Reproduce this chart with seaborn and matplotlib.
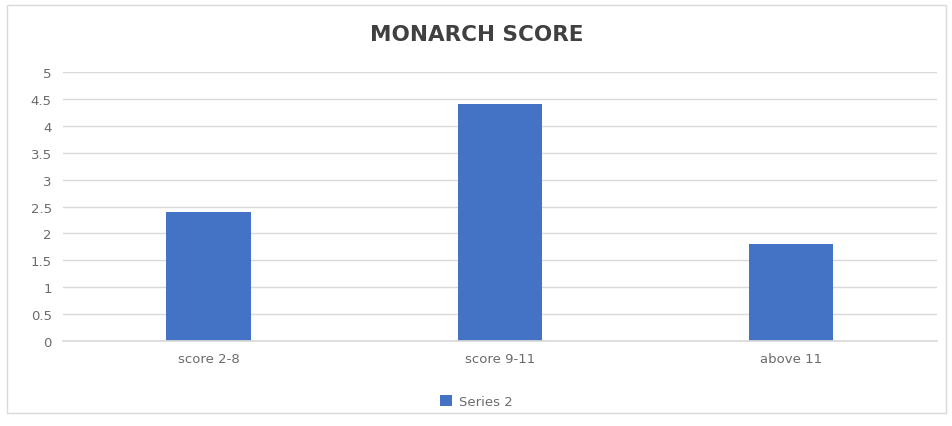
import matplotlib
matplotlib.use("Agg")
import matplotlib.pyplot as plt
import seaborn as sns
import pandas as pd
from matplotlib.patches import Rectangle

categories = ["score 2-8", "score 9-11", "above 11"]
values = [2.4, 4.4, 1.8]
series_name = "Series 2"
yticks = [0, 0.5, 1, 1.5, 2, 2.5, 3, 3.5, 4, 4.5, 5]
ytick_labels = ["0", "0.5", "1", "1.5", "2", "2.5", "3", "3.5", "4", "4.5", "5"]

sns.set_theme(style="white")
plt.rcParams['font.family'] = ['DejaVu Sans']

df = pd.DataFrame({"category": categories, "value": values})

fig = plt.figure(figsize=(9.53, 4.27), dpi=100)
ax = fig.add_axes([0.066, 0.199, 0.917, 0.63])

sns.barplot(data=df, x="category", y="value", color="#4472C4", width=0.29,
            saturation=1, label=series_name, linewidth=0, ax=ax)

ax.set_ylim(0, 5)
ax.set_yticks(yticks)
ax.set_yticklabels(ytick_labels)
ax.yaxis.grid(True, color="#D9D9D9", linewidth=1)
ax.set_axisbelow(True)
for s in ["top", "right", "left"]:
    ax.spines[s].set_visible(False)
ax.spines["bottom"].set_color("#D9D9D9")
ax.tick_params(axis="both", length=0, labelsize=9.5, labelcolor="#6b6b6b", pad=8)
ax.set_xlabel("")
ax.set_ylabel("")

fig.text(0.5, 0.918, "MONARCH SCORE", ha="center", va="center",
         fontsize=15.5, fontweight="bold", color="#404040")

handles, labels = ax.get_legend_handles_labels()
fig.legend(handles, labels, loc="center", bbox_to_anchor=(0.5, 0.058),
           frameon=False, fontsize=9.5, labelcolor="#6b6b6b",
           handlelength=0.9, handleheight=0.9, handletextpad=0.5)
if ax.get_legend():
    ax.get_legend().remove()

fig.patches.append(Rectangle((0.007, 0.03), 0.986, 0.955, transform=fig.transFigure,
                             fill=False, edgecolor="#D9D9D9", linewidth=1))

fig.savefig("out.png", dpi=100)
